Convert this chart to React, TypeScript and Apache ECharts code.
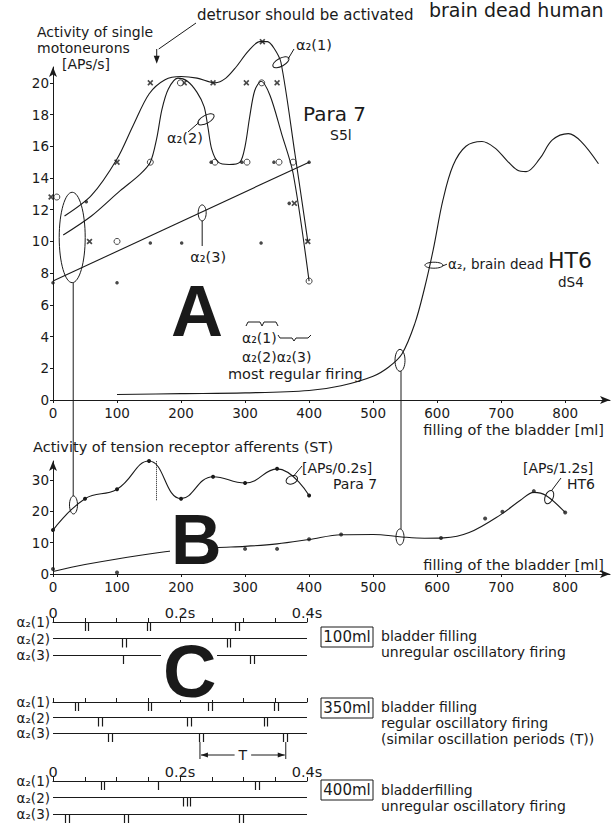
import React, { useEffect, useRef } from "react";
import * as echarts from "echarts";

const INK = "#1a1a1a";
const FONT = "DejaVu Sans";
const BIGFONT = "Liberation Sans";

// ---------------- Panel A : single motoneurons [APs/s] vs bladder filling [ml] ----------------
const xTicksMl = [0, 100, 200, 300, 400, 500, 600, 700, 800];
const yTicksA = [0, 2, 4, 6, 8, 10, 12, 14, 16, 18, 20];
const yTicksB = [0, 10, 20, 30];
const detrusorMl = 162;

// measured firing rates (Para 7): x = alpha2(1), o = alpha2(2), dot = alpha2(3)
const a1Marks = [[-3, 12.8], [57, 10], [100, 15], [152, 20], [205, 20], [250, 20], [302, 20], [327, 22.6], [350, 20], [377, 12.4], [398, 10]];
const a2Marks = [[6, 12.8], [100, 10], [152, 15], [199, 20], [253, 15], [303, 15], [326, 20], [353, 15], [375, 15], [400, 7.5]];
const a3Marks = [[0, 7.4], [52, 12.5], [100, 7.4], [152, 9.9], [201, 9.9], [247, 15], [295, 15], [325, 9.9], [345, 15], [369, 12.4], [400, 15]];

// hand-drawn curves
const a1Curve = [[18, 11.6], [60, 12.9], [100, 15.2], [125, 17.3], [150, 19.3], [175, 20.2], [200, 20.4], [225, 20.3], [253, 20], [270, 20.3], [286, 21], [305, 22], [323, 22.6], [335, 22.6], [345, 22.2], [356, 21.3], [378, 15.5], [398, 10]];
const a2Curve = [[16, 10.4], [60, 11.6], [105, 13.2], [135, 14.2], [152, 15], [162, 16.5], [170, 18.3], [180, 19.6], [195, 20.3], [210, 20.1], [225, 19.4], [236, 18.5], [242, 17.2], [248, 15.8], [258, 15], [275, 14.85], [292, 15], [300, 16], [307, 17.8], [315, 19.5], [325, 20.1], [339, 19.2], [357, 16.8], [375, 14.3], [400, 7.5]];
const a3Fit = [[0, 7.5], [400, 15]];
const ht6ACurve = [[100, 0.35], [200, 0.4], [300, 0.45], [400, 0.6], [450, 0.9], [500, 1.5], [525, 2.1], [545, 2.9], [565, 4.8], [580, 7], [594, 9.5], [609, 12.6], [625, 14.8], [645, 16], [670, 16.3], [690, 15.9], [709, 15.1], [725, 14.5], [739, 14.4], [760, 15.2], [780, 16.4], [805, 16.8], [825, 16.3], [852, 14.9]];

// ---------------- Panel B : tension receptor afferents ----------------
const para7B = [[0, 14], [50, 24], [100, 27], [150, 36], [200, 24], [250, 31], [300, 29], [350, 33.5], [400, 25]];
const ht6BMarks = [[0, 1.6], [100, 0.5], [300, 8], [350, 8], [400, 11.1], [450, 12.6], [606, 11.5], [675, 17.7], [702, 19.8], [751, 26.4], [800, 19.6]];
const ht6BCurve = [[0, 0.8], [50, 3], [100, 4.8], [175, 7.1], [254, 8.4], [300, 8.8], [350, 9.6], [400, 11], [450, 12.5], [500, 12.6], [545, 11.8], [580, 11.4], [610, 11.5], [650, 13.2], [700, 19], [730, 23.5], [751, 26], [770, 25], [800, 19.6]];

// ---------------- Panel C : spike trains [time s, row, strokes] ----------------
const rowNames = ["α₂(1)", "α₂(2)", "α₂(3)"];
const timeTicks = [0, 0.05, 0.1, 0.15, 0.2, 0.25, 0.3, 0.35, 0.4];
const timeLabels = [0, 0.2, 0.4];
const spikes100ml = [[0.053, 0, 2], [0.15, 0, 2], [0.29, 0, 2], [0.112, 1, 2], [0.276, 1, 2], [0.11, 2, 1], [0.313, 2, 2]];
const spikes350ml = [[0.037, 0, 2], [0.152, 0, 2], [0.247, 0, 2], [0.351, 0, 2], [0.074, 1, 2], [0.214, 1, 2], [0.335, 1, 2], [0.09, 2, 2], [0.233, 2, 2], [0.365, 2, 2]];
const spikes400ml = [[0.078, 0, 2], [0.165, 0, 1], [0.321, 0, 2], [0.211, 1, 3], [0.022, 2, 2], [0.115, 2, 2], [0.296, 2, 2]];
const periodT = [0.233, 0.365];

const X_PATH = "path://M0,2L2,0L5,3L8,0L10,2L7,5L10,8L8,10L5,7L2,10L0,8L3,5Z";

const labelBase = { color: INK, fontFamily: FONT, fontSize: 13 };
const arrowLine = { show: true, symbol: ["none", "arrow"], symbolSize: [6, 10], lineStyle: { color: INK, width: 1 } };
const fmtMl = (v: number) => (xTicksMl.indexOf(v) >= 0 ? String(v) : "");
const fmtTime = (v: number) => (Math.abs(v) < 1e-6 ? "0" : Math.abs(v - 0.2) < 1e-6 ? "0.2s" : Math.abs(v - 0.4) < 1e-6 ? "0.4s" : "");

function mlAxis(gi: number) {
  return {
    gridIndex: gi, type: "value", min: 0, max: 870, interval: 100,
    axisLine: arrowLine,
    axisTick: { show: true, length: 3, customValues: xTicksMl, lineStyle: { color: INK } },
    axisLabel: { ...labelBase, fontSize: 13.5, margin: 6, customValues: xTicksMl, formatter: fmtMl },
    splitLine: { show: false },
  };
}
function timeAxis(gi: number, labels: boolean) {
  return {
    gridIndex: gi, type: "value", min: 0, max: 0.4, interval: 0.05, position: "top",
    axisLine: { show: true, lineStyle: { color: INK, width: 1 } },
    axisTick: { show: true, inside: false, length: 4, customValues: timeTicks, lineStyle: { color: INK } },
    axisLabel: { ...labelBase, fontSize: 14.5, margin: 2, show: labels, customValues: timeLabels, formatter: fmtTime },
    splitLine: { show: false },
  };
}
function rowAxis(gi: number) {
  return {
    gridIndex: gi, type: "category", data: rowNames, inverse: true, boundaryGap: false,
    axisLine: { show: false }, axisTick: { show: false },
    axisLabel: { ...labelBase, fontSize: 13.5, margin: 3, interval: 0 },
    splitLine: { show: true, interval: 0, lineStyle: { color: INK, width: 1 } },
  };
}
function lineS(ai: number, data: number[][], extra: any = {}) {
  return { type: "line", xAxisIndex: ai, yAxisIndex: ai, data, smooth: 0.3, showSymbol: false, symbol: "none", clip: false, silent: true, lineStyle: { color: INK, width: 1.1 }, ...extra };
}
function scat(ai: number, data: number[][], symbol: string, size: number, itemStyle: any, extra: any = {}) {
  return { type: "scatter", xAxisIndex: ai, yAxisIndex: ai, data, symbol, symbolSize: size, clip: false, silent: true, itemStyle, ...extra };
}
function spikeSeries(ai: number, data: number[][]) {
  return {
    type: "custom", xAxisIndex: ai, yAxisIndex: ai, data, clip: false, silent: true,
    encode: { x: 0, y: 1 },
    renderItem: (params: any, api: any) => {
      const p = api.coord([api.value(0), api.value(1)]);
      const n = api.value(2);
      const children: any[] = [];
      for (let i = 0; i < n; i++) {
        const x = Math.round(p[0] + (i - (n - 1) / 2) * 3.5) + 0.5;
        children.push({ type: "line", shape: { x1: x, y1: p[1], x2: x, y2: p[1] + 9 }, style: { stroke: INK, lineWidth: 1.2 } });
      }
      return { type: "group", children };
    },
  };
}

function buildOption() {
  const dotted = (y0: number, y1: number) => ({
    silent: true, symbol: ["none", "none"], label: { show: false },
    lineStyle: { type: "dotted", color: INK, width: 1 },
    data: [[{ coord: [detrusorMl, y0] }, { coord: [detrusorMl, y1] }]],
  });
  return {
    animation: false,
    backgroundColor: "#ffffff",
    textStyle: { fontFamily: FONT },
    grid: [
      { left: 53, top: 67, width: 557, height: 333, outerBoundsMode: "none" },
      { left: 53, top: 461, width: 557, height: 113, outerBoundsMode: "none" },
      { left: 53, top: 622, width: 254, height: 33, outerBoundsMode: "none" },
      { left: 53, top: 702, width: 254, height: 31, outerBoundsMode: "none" },
      { left: 53, top: 781, width: 254, height: 33, outerBoundsMode: "none" },
    ],
    xAxis: [mlAxis(0), mlAxis(1), timeAxis(2, true), timeAxis(3, false), timeAxis(4, true)],
    yAxis: [
      {
        gridIndex: 0, type: "value", min: 0, max: 21, interval: 2, axisLine: arrowLine,
        axisTick: { show: true, length: 3, customValues: yTicksA, lineStyle: { color: INK } },
        axisLabel: { ...labelBase, fontSize: 13.5, margin: 4, customValues: yTicksA },
        splitLine: { show: false },
      },
      {
        gridIndex: 1, type: "value", min: 0, max: 36, interval: 10, axisLine: arrowLine,
        axisTick: { show: true, length: 3, customValues: yTicksB, lineStyle: { color: INK } },
        axisLabel: { ...labelBase, fontSize: 13.5, margin: 4, customValues: yTicksB },
        splitLine: { show: false },
      },
      rowAxis(2), rowAxis(3), rowAxis(4),
    ],
    series: [
      // Panel A
      lineS(0, a1Curve),
      lineS(0, a2Curve),
      lineS(0, a3Fit, { smooth: false }),
      lineS(0, ht6ACurve, { smooth: 0.35 }),
      scat(0, a1Marks, X_PATH, 6, { color: INK }, { markLine: dotted(0, 21.2) }),
      scat(0, a2Marks, "circle", 6, { color: "#fff", borderColor: INK, borderWidth: 1 }),
      scat(0, a3Marks, "circle", 3.5, { color: INK }),
      // Panel B
      lineS(1, para7B, { smooth: 0.45, showSymbol: true, symbol: "circle", symbolSize: 4, itemStyle: { color: INK }, markLine: dotted(23.5, 36) }),
      lineS(1, ht6BCurve, { smooth: 0.35 }),
      scat(1, ht6BMarks, "circle", 4, { color: INK }),
      // Panel C
      spikeSeries(2, spikes100ml),
      spikeSeries(3, spikes350ml),
      spikeSeries(4, spikes400ml),
    ],
  };
}

const txt = (x: number, y: number, text: string, opt: any = {}) => ({
  type: "text", x, y, silent: true, z: 100,
  style: { text, fill: INK, fontFamily: FONT, fontSize: 14, lineHeight: 14, align: "left", verticalAlign: "middle", ...opt },
});
const ln = (x1: number, y1: number, x2: number, y2: number, w = 1) => ({
  type: "line", silent: true, z: 90, shape: { x1, y1, x2, y2 }, style: { stroke: INK, lineWidth: w },
});
const ell = (cx: number, cy: number, rx: number, ry: number, rot = 0) => ({
  type: "ellipse", silent: true, z: 90, x: cx, y: cy, rotation: rot, shape: { cx: 0, cy: 0, rx, ry },
  style: { fill: "none", stroke: INK, lineWidth: 1 },
});
const poly = (pts: number[][]) => ({ type: "polygon", silent: true, z: 90, shape: { points: pts }, style: { fill: INK } });
const pline = (pts: number[][]) => ({ type: "polyline", silent: true, z: 90, shape: { points: pts }, style: { stroke: INK, lineWidth: 1, fill: "none" } });
const box = (x: number, y: number, w: number, h: number) => ({
  type: "rect", silent: true, z: 90, shape: { x, y, width: w, height: h }, style: { fill: "none", stroke: INK, lineWidth: 1 },
});
const mask = (x: number, y: number, w: number, h: number) => ({
  type: "rect", silent: true, z: 95, shape: { x, y, width: w, height: h }, style: { fill: "#fff" },
});

function buildGraphics(chart: any) {
  const A = (x: number, y: number) => chart.convertToPixel({ gridIndex: 0 }, [x, y]) as number[];
  const B = (x: number, y: number) => chart.convertToPixel({ gridIndex: 1 }, [x, y]) as number[];
  const g: any[] = [];

  // top texts
  g.push(txt(429, 10, "brain dead human", { fontSize: 19, lineHeight: 18 }));
  g.push(txt(197, 15, "detrusor should be activated", { fontSize: 15 }));
  g.push(txt(37, 32, "Activity of single"));
  g.push(txt(37, 48, "motoneurons"));
  g.push(txt(62, 64, "[APs/s]"));

  // detrusor arrow
  const dTop = A(detrusorMl, 21.2);
  g.push(ln(196, 23, dTop[0] + 2, 49));
  g.push(ln(dTop[0], 49, dTop[0], dTop[1] - 6));
  g.push(poly([[dTop[0] - 3, dTop[1] - 8], [dTop[0] + 3, dTop[1] - 8], [dTop[0], dTop[1]]]));

  // Panel A annotations
  const e1 = A(356, 21.3);
  g.push(ell(e1[0], e1[1], 9, 4, 0.5));
  g.push(ln(e1[0] + 7, e1[1] - 3, 294, 49));
  g.push(txt(296, 45, "α₂(1)", { fontSize: 14.5 }));

  const e2 = A(239, 17.7);
  g.push(ell(e2[0], e2[1], 9, 4, 0.5));
  g.push(ln(e2[0] - 7, e2[1] + 3, 188, 132));
  g.push(txt(167, 138, "α₂(2)", { fontSize: 14.5 }));

  const e3 = A(233, 11.8);
  g.push(ell(e3[0], e3[1], 4, 8, 0));
  g.push(ln(e3[0], e3[1] + 8, e3[0], 246));
  g.push(txt(e3[0] + 6, 257, "α₂(3)", { fontSize: 14.5, align: "center" }));

  g.push(txt(303, 114, "Para 7", { fontSize: 20, lineHeight: 16 }));
  g.push(txt(330, 135, "S5l", { lineHeight: 12 }));

  const eh = A(595, 8.5);
  g.push(ell(eh[0], eh[1], 9, 3, 0));
  g.push(ln(eh[0] + 8, eh[1] + 1, eh[0] + 13, eh[1] - 1));
  g.push(txt(448, 264, "α₂, brain dead", { fontSize: 13.5 }));
  g.push(txt(548, 260, "HT6", { fontSize: 22, lineHeight: 16 }));
  g.push(txt(558, 282, "dS4", { fontSize: 13.5, lineHeight: 12 }));

  g.push(txt(171, 311, "A", { fontFamily: BIGFONT, fontWeight: "bold", fontSize: 72, lineHeight: 60 }));

  // braces
  g.push(pline([[246, 326], [248, 322], [260, 322], [262, 326], [264, 322], [276, 322], [278, 326]]));
  g.push(txt(242, 338, "α₂(1)"));
  g.push(pline([[278, 335], [280, 338], [292, 338], [294, 341], [296, 338], [308, 338], [311, 335]]));
  g.push(txt(242, 357, "α₂(2)α₂(3)"));
  g.push(txt(228, 374, "most regular firing", { fontSize: 14.5 }));

  g.push(txt(604, 430, "filling of the bladder [ml]", { fontSize: 14.5, align: "right" }));

  // connectors A -> B
  const ec = A(30, 10.25), et = A(30, 13.1), eb = A(30, 7.4);
  g.push(ell(ec[0], ec[1], 13, (eb[1] - et[1]) / 2, 0));
  const bc = B(32, 22);
  g.push(ell(bc[0], bc[1], 4, 9, 0));
  g.push(ln(ec[0] + 1, eb[1], ec[0] + 1, bc[1] - 9));

  const hA = A(542, 2.5), hB = B(542, 11.8);
  g.push(ell(hA[0], hA[1], 5, 11, 0));
  g.push(ell(hB[0], hB[1], 4, 8, 0));
  g.push(ln(hA[0] + 1, hA[1] + 11, hA[0] + 1, hB[1] - 8));

  // Panel B texts
  g.push(txt(33, 447, "Activity of tension receptor afferents (ST)", { fontSize: 14.5 }));
  const p7 = B(373, 30);
  g.push(ell(p7[0], p7[1], 6, 4, 0.4));
  g.push(ln(p7[0] + 2, p7[1] - 4, 302, 466));
  g.push(txt(302, 468, "[APs/0.2s]", { lineHeight: 12 }));
  g.push(txt(333, 484, "Para 7", { lineHeight: 12 }));
  const hb = B(775, 24.5);
  g.push(ell(hb[0], hb[1], 4, 7, -0.4));
  g.push(ln(hb[0] + 2, hb[1] - 6, 561, 478));
  g.push(txt(523, 468, "[APs/1.2s]", { lineHeight: 12 }));
  g.push(txt(567, 484, "HT6", { lineHeight: 12 }));
  g.push(mask(170, 512, 46, 56));
  g.push(txt(171, 540, "B", { fontFamily: BIGFONT, fontWeight: "bold", fontSize: 70, lineHeight: 58 }));
  g.push(txt(604, 565, "filling of the bladder [ml]", { fontSize: 14.5, align: "right" }));

  // Panel C
  g.push(mask(161, 645, 56, 55));
  g.push(txt(163, 671, "C", { fontFamily: BIGFONT, fontWeight: "bold", fontSize: 74, lineHeight: 60 }));
  g.push(box(321, 627, 52, 20));
  g.push(txt(347, 637, "100ml", { fontSize: 15, align: "center" }));
  g.push(txt(381, 636, "bladder filling"));
  g.push(txt(381, 652, "unregular oscillatory firing"));

  g.push(box(321, 698, 52, 20));
  g.push(txt(347, 708, "350ml", { fontSize: 15, align: "center" }));
  g.push(txt(381, 707, "bladder filling"));
  g.push(txt(381, 723, "regular oscillatory firing"));
  g.push(txt(381, 739, "(similar oscillation periods (T))"));

  g.push(box(321, 780, 52, 20));
  g.push(txt(347, 790, "400ml", { fontSize: 15, align: "center" }));
  g.push(txt(381, 790, "bladderfilling"));
  g.push(txt(381, 806, "unregular oscillatory firing"));

  // period T arrow under alpha2(3) at 350 ml
  const t1 = chart.convertToPixel({ xAxisIndex: 3 }, periodT[0]);
  const t2 = chart.convertToPixel({ xAxisIndex: 3 }, periodT[1]);
  const ry = chart.convertToPixel({ yAxisIndex: 3 }, rowNames[2]);
  const ay = ry + 22;
  g.push(ln(t1 - 1, ry + 9, t1 - 1, ay + 4));
  g.push(ln(t2 + 1, ry + 9, t2 + 1, ay + 4));
  g.push(ln(t1, ay, t2, ay));
  g.push(poly([[t1, ay], [t1 + 7, ay - 2.5], [t1 + 7, ay + 2.5]]));
  g.push(poly([[t2, ay], [t2 - 7, ay - 2.5], [t2 - 7, ay + 2.5]]));
  g.push(txt((t1 + t2) / 2, ay, "T", { align: "center", backgroundColor: "#fff", padding: [0, 4] }));

  return g;
}

export default function App() {
  const ref = useRef<HTMLDivElement>(null);
  useEffect(() => {
    const chart = echarts.init(ref.current as HTMLDivElement, null, { renderer: "svg" });
    chart.setOption(buildOption() as any);
    chart.setOption({ graphic: { elements: buildGraphics(chart) } } as any);
    return () => chart.dispose();
  }, []);
  return (
    <div
      ref={ref}
      style={{ position: "fixed", left: 0, top: 0, width: 614, height: 823, background: "#fff" }}
    />
  );
}
